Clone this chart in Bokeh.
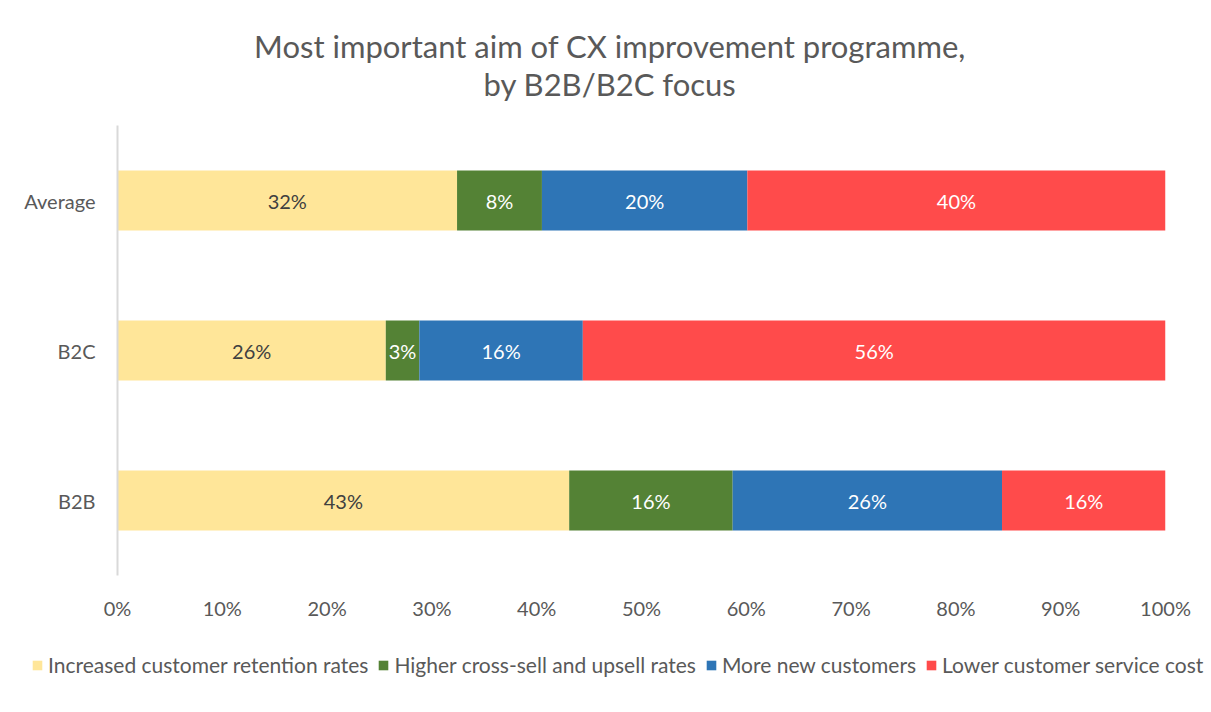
from bokeh.plotting import figure
from bokeh.layouts import column
from bokeh.models import ColumnDataSource, Legend, LegendItem, FixedTicker, CustomJSTickFormatter, Label
from bokeh.core.properties import value
from bokeh.embed import file_html
from bokeh.resources import INLINE

# ---- data ----
categories = ["B2B", "B2C", "Average"]
series = ["Increased customer retention rates", "Higher cross-sell and upsell rates",
          "More new customers", "Lower customer service cost"]
retention = [43.1, 25.6, 32.4]
cross_sell = [15.6, 3.2, 8.1]
new_customers = [25.7, 15.6, 19.6]
service_cost = [15.6, 55.6, 39.9]
x_ticks = [0, 10, 20, 30, 40, 50, 60, 70, 80, 90, 100]
title_lines = ["Most important aim of CX improvement programme,", "by B2B/B2C focus"]

colors = ["#FFE699", "#548235", "#2E75B6", "#FF4B4B"]
label_colors = ["#404040", "#FFFFFF", "#FFFFFF", "#FFFFFF"]
FONT = "Lato"
W = 1211


def blank_strip(height):
    f = figure(width=W, height=height, x_range=(0, 1), y_range=(0, 1), output_backend="svg",
               toolbar_location=None, min_border=0)
    f.frame_align = False
    f.xaxis.visible = False
    f.yaxis.visible = False
    f.xgrid.grid_line_color = None
    f.ygrid.grid_line_color = None
    f.outline_line_color = None
    return f


# ---- title strip ----
TH = 110
pt = blank_strip(TH)
for line, yc in zip(title_lines, [45, 83]):
    pt.add_layout(Label(x=W / 2 + 4, y=TH - yc, x_units="screen", y_units="screen", text=line,
                        text_align="center", text_baseline="middle", text_font=FONT,
                        text_font_size="31px", text_color="#595959"))

# ---- main chart ----
keys = ["retention", "cross_sell", "new_customers", "service_cost"]
data = dict(cat=categories, retention=retention, cross_sell=cross_sell,
            new_customers=new_customers, service_cost=service_cost)
src = ColumnDataSource(data)

H = 530
ML, MR, MT, MB = 117, 46, 125 - TH, 65
p = figure(y_range=categories, x_range=(0, 100), width=W, height=H,
           output_backend="svg", toolbar_location=None,
           min_border_left=ML, min_border_right=MR, min_border_top=MT, min_border_bottom=MB)

p.hbar_stack(keys, y="cat", height=0.4, color=colors, source=src, line_color=None)

vals = [retention, cross_sell, new_customers, service_cost]
for i, k in enumerate(keys):
    lefts = [sum(v[j] for v in vals[:i]) for j in range(len(categories))]
    centers = [lefts[j] + vals[i][j] / 2 for j in range(len(categories))]
    labels = ["%d%%" % round(vals[i][j]) for j in range(len(categories))]
    ls = ColumnDataSource(dict(x=centers, y=categories, t=labels))
    p.text(x="x", y="y", text="t", source=ls, text_align="center", text_baseline="middle",
           text_font=value(FONT), text_font_size="20px", text_color=label_colors[i])

p.xaxis.ticker = FixedTicker(ticks=x_ticks)
p.xaxis.formatter = CustomJSTickFormatter(code="return tick + '%';")
p.xaxis.axis_line_color = None
p.xaxis.major_tick_line_color = None
p.xaxis.minor_tick_line_color = None
p.xaxis.major_label_text_font = FONT
p.xaxis.major_label_text_font_size = "20px"
p.xaxis.major_label_text_color = "#595959"
p.xaxis.major_label_standoff = 14

p.yaxis.axis_line_color = "#D9D9D9"
p.yaxis.axis_line_width = 2
p.yaxis.major_tick_line_color = None
p.yaxis.minor_tick_line_color = None
p.yaxis.major_label_text_font = FONT
p.yaxis.major_label_text_font_size = "20px"
p.yaxis.major_label_text_color = "#595959"
p.yaxis.major_label_standoff = 16

p.xgrid.grid_line_color = None
p.ygrid.grid_line_color = None
p.outline_line_color = None
p.y_range.range_padding = 0

# ---- legend strip ----
pl = blank_strip(72)
items = []
for s, c in zip(series, colors):
    r = pl.hbar(y=[0.5], left=[0], right=[0], height=0, color=c, line_color=None)
    items.append(LegendItem(label=s, renderers=[r]))
legend = Legend(items=items, orientation="horizontal", location=(31, 35),
                label_text_font=FONT, label_text_font_size="21px", label_text_color="#595959",
                glyph_width=12, glyph_height=12, spacing=9, label_standoff=5,
                border_line_color=None, background_fill_alpha=0, margin=0, padding=0)
pl.add_layout(legend, "center")

layout = column(pt, p, pl, spacing=0)
open("out.html", "w").write(file_html(layout, INLINE))
